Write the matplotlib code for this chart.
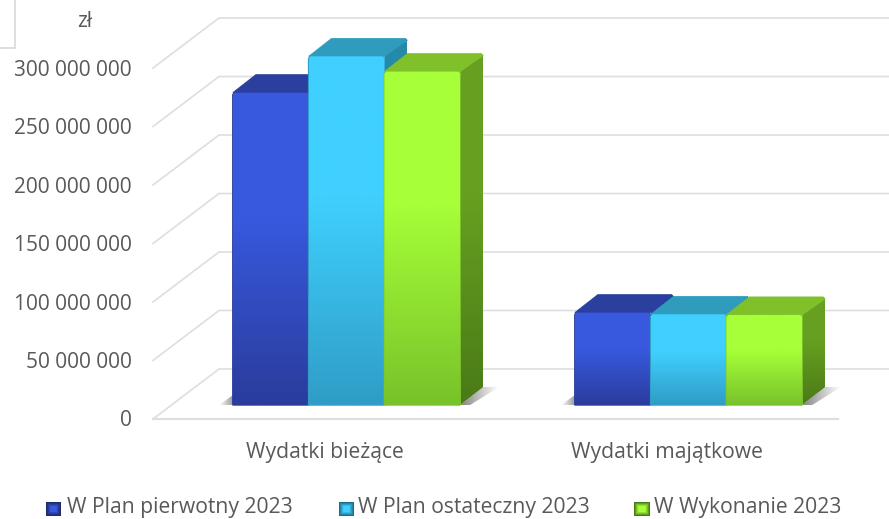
import matplotlib
matplotlib.use('Agg')
import matplotlib.pyplot as plt
import numpy as np
from matplotlib.colors import LinearSegmentedColormap
from matplotlib.patches import Polygon

plt.rcParams['font.family'] = ['Open Sans', 'DejaVu Sans']

# Data
categories = ['Wydatki bieżące', 'Wydatki majątkowe']
series_names = ['W Plan pierwotny 2023', 'W Plan ostateczny 2023', 'W Wykonanie 2023']
plan_pierwotny = [267000000, 79000000]
plan_ostateczny = [298000000, 77500000]
wykonanie = [285000000, 77000000]
series_values = [plan_pierwotny, plan_ostateczny, wykonanie]
y_ticks = [0, 50000000, 100000000, 150000000, 200000000, 250000000, 300000000]

# Colours per series: front top, front bottom, roof, side top, side bottom
colors = [
    ('#3859de', '#2a3c9c', '#2a3f9e', '#24367f', '#1c2c6c'),
    ('#40d0ff', '#2f9dc6', '#2f9cbd', '#258aa8', '#1d6f88'),
    ('#a6ff38', '#78c22a', '#80c029', '#67a020', '#4a7a18'),
]
text_color = '#595959'
grid_color = '#dedede'

W, H = 889, 519
X_UNIT = 342.0           # pixels per category
Y_UNIT = 58.5 / 50e6     # pixels per zł
X0, Y0 = 324.0, 419.0    # first category centre, zero line


def gradient(ax, verts, top, bottom, z):
    # vertical gradient clipped to a polygon, stays bright in the upper part
    verts = np.array(verts)
    cmap = LinearSegmentedColormap.from_list('g', [(0, top), (0.4, top), (1, bottom)])
    im = ax.imshow(np.linspace(0, 1, 256).reshape(-1, 1), cmap=cmap, aspect='auto',
                   extent=(verts[:, 0].min(), verts[:, 0].max(), verts[:, 1].min(), verts[:, 1].max()),
                   origin='upper', zorder=z, interpolation='bilinear')
    clip = Polygon(verts, transform=ax.transData, facecolor='none', edgecolor='none')
    ax.add_patch(clip)
    im.set_clip_path(clip)


def shadow(ax, verts, fade_right, z):
    # grey fading to nothing, sideways
    verts = np.array(verts)
    alpha = np.linspace(0.75, 0, 64) if fade_right else np.linspace(0, 0.6, 64)
    rgba = np.zeros((1, 64, 4))
    rgba[..., :3] = 0.35
    rgba[..., 3] = alpha
    im = ax.imshow(rgba, aspect='auto', zorder=z, interpolation='bilinear',
                   extent=(verts[:, 0].min(), verts[:, 0].max(), verts[:, 1].min(), verts[:, 1].max()))
    clip = Polygon(verts, transform=ax.transData, facecolor='none', edgecolor='none')
    ax.add_patch(clip)
    im.set_clip_path(clip)


def dx(px):
    return px / X_UNIT


def dy(px):
    return px / Y_UNIT


fig = plt.figure(figsize=(W / 100, H / 100), dpi=100)
ax = fig.add_axes([0, 0, 1, 1])
ax.axis('off')

# walls and floor
back_x, back_y = dx(66), dy(50)
x_left = dx(153 - X0)
x_right = dx(838 - X0)
for v in y_ticks:
    ax.plot([x_left, x_left + back_x, x_right + back_x], [v, v + back_y, v + back_y],
            color=grid_color, lw=1.2, zorder=1, solid_joinstyle='miter')
    ax.text(dx(132 - X0), v - dy(2), f'{v:,}'.replace(',', ' '), ha='right', va='center',
            fontsize=15, color=text_color)
ax.plot([x_left, x_right], [0, 0], color=grid_color, lw=1.6, zorder=1)
ax.text(dx(84.5 - X0), dy(Y0 - 21), 'zł', ha='center', va='center', fontsize=15, color=text_color)

# bars
bar_w = 75.8 / X_UNIT
base = dy(14)
side_x, side_y = dx(23), dy(18)
chamfer_x, chamfer_y = dx(2), dy(2)
for c in range(len(categories)):
    centre = c + dx(22.5)
    left_edge = centre - 1.5 * bar_w
    right_edge = centre + 1.5 * bar_w

    # floor shadows
    shadow(ax, [(right_edge, base), (right_edge + side_x, base + side_y),
                (right_edge + side_x + dx(16), base + side_y), (right_edge + dx(10), base)], True, 2)
    shadow(ax, [(left_edge - dx(14), base), (left_edge, base), (left_edge, base + dy(10))], False, 2)

    for s, vals in enumerate(series_values):
        x0 = left_edge + s * bar_w
        x1 = x0 + bar_w
        h = base + vals[c]
        front_top, front_bottom, roof, side_top, side_bottom = colors[s]
        z = 3 + s * 0.1
        # side face
        gradient(ax, [(x1, base), (x1 + side_x, base + side_y), (x1 + side_x, h + side_y - chamfer_y),
                      (x1 + side_x - chamfer_x, h + side_y), (x1, h)], side_top, side_bottom, z)
        # roof
        ax.add_patch(Polygon([(x0, h), (x0 + side_x, h + side_y), (x1 + side_x - chamfer_x, h + side_y),
                              (x1 + side_x, h + side_y - chamfer_y), (x1, h)],
                             closed=True, facecolor=roof, edgecolor=roof, lw=0.5, zorder=z + 0.01))
        # front face
        front = [(x0, base), (x1, base), (x1, h - chamfer_y), (x1 - chamfer_x, h),
                 (x0 + chamfer_x, h), (x0, h - chamfer_y)]
        ax.add_patch(Polygon(front, closed=True, facecolor=front_bottom, edgecolor=front_bottom,
                             lw=1.0, zorder=z + 0.015))
        gradient(ax, front, front_top, front_bottom, z + 0.02)

    ax.text(c + dx(1), dy(Y0 - 452.5), categories[c], ha='center', va='center', fontsize=15.2, color=text_color)

# legend
swatch_x = [46, 339, 634]
text_x = [67, 358, 654]
for s, name in enumerate(series_names):
    ax.text(dx(text_x[s] - X0), dy(Y0 - 508), name, ha='left', va='center', fontsize=15.2, color=text_color)
    sw = fig.add_axes([swatch_x[s] / W, 1 - 516 / H, 15 / W, 14 / H])
    sw.axis('off')
    xx, yy = np.meshgrid(np.linspace(-1, 1, 15), np.linspace(-1, 1, 14))
    bright = 1 - np.maximum(np.abs(xx), np.abs(yy))
    cmap = LinearSegmentedColormap.from_list('l', [colors[s][4], colors[s][1], colors[s][0]])
    sw.imshow(bright, cmap=cmap, aspect='auto', interpolation='nearest', vmin=0, vmax=0.6)

# stray frame corner at the top left
ax.plot([dx(0 - X0), dx(15 - X0), dx(15 - X0)], [dy(Y0 - 48), dy(Y0 - 48), dy(Y0 - 0)],
        color=grid_color, lw=1.4, zorder=1)

ax.set_xlim(-X0 / X_UNIT, (W - X0) / X_UNIT)
ax.set_ylim((Y0 - H) / Y_UNIT, Y0 / Y_UNIT)

fig.savefig('out.png', dpi=100, facecolor='white')
